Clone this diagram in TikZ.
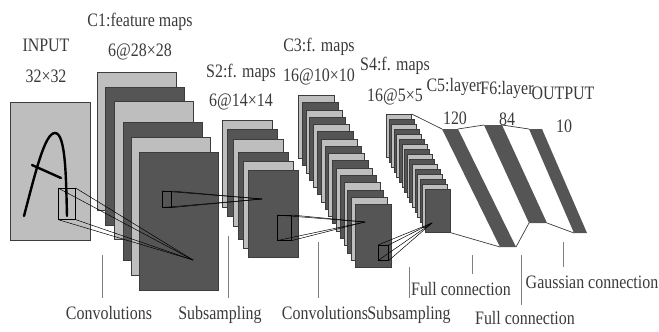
\documentclass[tikz,border=0pt]{standalone}
\usepackage{fontspec}
\setmainfont{Liberation Serif}
\usepackage{xcolor}
\definecolor{lighttone}{HTML}{BEBEBE}
\definecolor{darktone}{HTML}{555555}
\definecolor{edgetone}{HTML}{3C3C3C}
\definecolor{labeltext}{HTML}{3A3A3A}

\begin{document}
\begin{tikzpicture}[
    x=1pt, y=-1pt,
    mapsheet/.style={rectangle, draw=edgetone, fill=#1, line width=0.7pt, inner sep=0pt,
                  anchor=north west},
    probe/.style={rectangle, draw=black, line width=0.6pt, inner sep=0pt, anchor=north west},
    beam/.style={draw=black, line width=0.5pt},
    band/.style={fill=darktone, draw=none},
    link/.style={draw=edgetone, line width=0.7pt},
    tick/.style={draw=black!50, line width=0.7pt},
    pen/.style={draw=black, line width=2.4pt, line cap=round},
    caption/.style={font=\fontsize{19}{19}\selectfont, text=labeltext, inner sep=0pt,
                  xscale=0.84}
]
\useasboundingbox (0,0) rectangle (659,332);

% Input image with the hand-written letter
\node[mapsheet=lighttone, minimum width=80pt, minimum height=138pt] (input) at (10,102) {};
\draw[pen] (24,216) .. controls (36,170) and (45,133) .. (55,133)
    .. controls (66,133) and (66,180) .. (67,216);
\draw[pen] (32,165) -- (61,178);

% C1 feature maps
\foreach \n/\x/\y/\s in {a/97/72/lighttone, b/105/87/darktone, c/114/101/lighttone,
                         d/123/122/darktone, e/131/137/lighttone, f/139/152/darktone}
    \node[mapsheet=\s, minimum width=79pt, minimum height=138pt] (cone\n) at (\x,\y) {};

% S2 feature maps
\foreach \n/\x/\y/\s in {a/222/120/lighttone, b/227/129/darktone, c/233/139/lighttone,
                         d/238/152/darktone, e/243/161/lighttone, f/248/170/darktone}
    \node[mapsheet=\s, minimum width=50pt, minimum height=87pt] (stwo\n) at (\x,\y) {};

% C3 feature maps
\foreach \i/\s in {0/lighttone, 1/darktone, 2/lighttone, 3/darktone, 4/lighttone, 5/darktone,
                   6/lighttone, 7/darktone, 8/lighttone, 9/darktone, 10/lighttone, 11/darktone,
                   12/lighttone, 13/darktone, 14/lighttone, 15/darktone}
    \node[mapsheet=\s, minimum width=36pt, minimum height=63pt]
        (cthree\i) at ({298+3.8*\i},{95+7.27*\i}) {};

% S4 feature maps
\foreach \i/\s in {0/lighttone, 1/darktone, 2/lighttone, 3/darktone, 4/lighttone, 5/darktone,
                   6/lighttone, 7/darktone, 8/lighttone, 9/darktone, 10/lighttone, 11/darktone,
                   12/lighttone, 13/darktone, 14/lighttone, 15/darktone}
    \node[mapsheet=\s, minimum width=25pt, minimum height=43pt]
        (sfour\i) at ({386+2.6*\i},{114+5*\i}) {};

% Dense layers
\coordinate (cfivetl) at (442,129);
\coordinate (cfivetr) at (458,129);
\coordinate (cfivebr) at (516,247);
\coordinate (cfivebl) at (500,247);
\coordinate (fsixtl) at (484,125);
\coordinate (fsixtr) at (502,125);
\coordinate (fsixbr) at (547,223);
\coordinate (fsixbl) at (529,223);
\coordinate (outtl) at (529,129);
\coordinate (outtr) at (542,129);
\coordinate (outbr) at (587,233);
\coordinate (outbl) at (574,233);
\path[band] (cfivetl) -- (cfivetr) -- (cfivebr) -- (cfivebl) -- cycle;
\path[band] (fsixtl) -- (fsixtr) -- (fsixbr) -- (fsixbl) -- cycle;
\path[band] (outtl) -- (outtr) -- (outbr) -- (outbl) -- cycle;

% Links between the layers
\draw[link] (sfour0.north east) -- (cfivetl);
\draw[link] (sfour15.south east) -- (cfivebl);
\draw[link] (cfivetr) -- (fsixtl);
\draw[link] (cfivebr) -- (fsixbl);
\draw[link] (fsixtr) -- (outtl);
\draw[link] (fsixbr) -- (outbl);

% Receptive fields
\node[probe, minimum width=17pt, minimum height=31pt] (fieldin) at (58,188) {};
\coordinate (tipcone) at (193,260);
\foreach \a in {north west, north east, south west, south east}
    \draw[beam] (fieldin.\a) -- (tipcone);

\node[probe, minimum width=9pt, minimum height=16pt] (fieldcone) at (162,191) {};
\coordinate (tipstwo) at (262,199);
\foreach \a in {north west, north east, south west, south east}
    \draw[beam] (fieldcone.\a) -- (tipstwo);

\node[probe, minimum width=14pt, minimum height=25pt] (fieldstwo) at (277,215) {};
\coordinate (tipcthree) at (365,222);
\foreach \a in {north west, north east, south west, south east}
    \draw[beam] (fieldstwo.\a) -- (tipcthree);

\node[probe, minimum width=10pt, minimum height=15pt] (fieldcthree) at (378,245) {};
\coordinate (tipsfour) at (432,223);
\foreach \a in {north west, north east, south west, south east}
    \draw[beam] (fieldcthree.\a) -- (tipsfour);

% Layer titles
\node[caption] (inputname) at (46,45) {INPUT};
\node[caption] (inputsize) at (46,76) {32×32};
\node[caption] (conename) at (140,22) {C1:feature maps};
\node[caption] (conesize) at (140,52) {6@28×28};
\node[caption] (stwoname) at (241,73) {S2:f. maps};
\node[caption] (stwosize) at (241,102) {6@14×14};
\node[caption] (cthreename) at (319,47) {C3:f. maps};
\node[caption] (cthreesize) at (319,77) {16@10×10};
\node[caption] (sfourname) at (395,66) {S4:f. maps};
\node[caption] (sfoursize) at (395,97) {16@5×5};
\node[caption] (cfivename) at (454,87) {C5:layer};
\node[caption] (cfivesize) at (455,118) {120};
\node[caption] (fsixname) at (507,90) {F6:layer};
\node[caption] (fsixsize) at (507,119) {84};
\node[caption] (outname) at (563,93) {OUTPUT};
\node[caption] (outsize) at (564,126) {10};

% Operation captions
\node[caption] (opconva) at (109,313) {Convolutions};
\node[caption] (opsuba) at (220,315) {Subsampling};
\node[caption] (opconvb) at (325,313) {Convolutions};
\node[caption] (opsubb) at (409,315) {Subsampling};
\node[caption] (opfulla) at (461,289) {Full connection};
\node[caption] (opfullb) at (525,318) {Full connection};
\node[caption] (opgauss) at (592,282) {Gaussian connection};

% Ticks above the captions
\coordinate (tickconva) at (102,255);
\coordinate (ticksuba) at (228,236);
\coordinate (tickconvb) at (318,242);
\coordinate (ticksubb) at (409,267);
\coordinate (tickfulla) at (472,255);
\coordinate (tickfullb) at (521,255);
\coordinate (tickgauss) at (563,242);
\draw[tick] (tickconva) -- ++(0,43);
\draw[tick] (ticksuba) -- ++(0,62);
\draw[tick] (tickconvb) -- ++(0,56);
\draw[tick] (ticksubb) -- ++(0,31);
\draw[tick] (tickfulla) -- ++(0,19);
\draw[tick] (tickfullb) -- ++(0,50);
\draw[tick] (tickgauss) -- ++(0,25);

\end{tikzpicture}
\end{document}
